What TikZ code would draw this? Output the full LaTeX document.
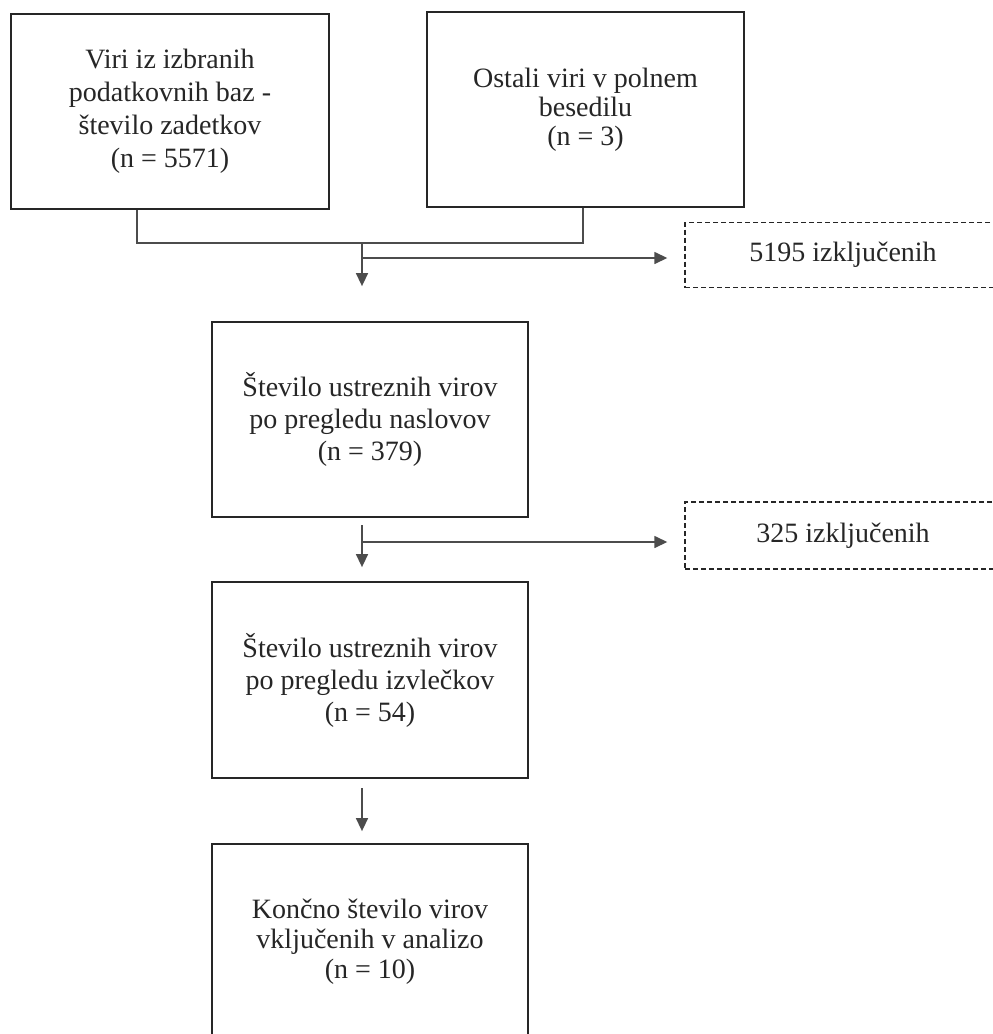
\documentclass[tikz,border=0pt]{standalone}
\usepackage{fontspec}
\setmainfont{Liberation Serif}
\usetikzlibrary{arrows.meta}
\begin{document}
\begin{tikzpicture}[x=1pt,y=-1pt,
 box/.style={draw=black!85, line width=1.8pt, align=center, text=black!85, inner sep=0pt, font=\fontsize{28}{32}\selectfont},
 exbox/.style={draw=black!85, line width=1.4pt, dash pattern=on 5pt off 3pt, align=center, inner sep=0pt, minimum width=316pt, minimum height=65pt, font=\fontsize{28}{32}\selectfont, text=black!85},
 conn/.style={draw=black!70, line width=1.5pt},
 arr/.style={conn, -{Triangle[length=13pt,width=12pt]}}]
\fill[white] (0,0) rectangle (993,1034);
\useasboundingbox (0,0) rectangle (993,1034);

\node[box, minimum width=318pt, minimum height=195pt, font=\fontsize{28}{33}\selectfont] (b1) at (170,111.5) {Viri iz izbranih\\podatkovnih baz -\\število zadetkov\\(n = 5571)};
\node[box, minimum width=317pt, minimum height=195pt, font=\fontsize{28}{29}\selectfont] (b2) at (585.5,109.5) {Ostali viri v polnem\\besedilu\\(n = 3)};
\node[box, minimum width=316pt, minimum height=195pt] (b3) at (370,419.5) {Število ustreznih virov\\po pregledu naslovov\\(n = 379)};
\node[box, minimum width=316pt, minimum height=196pt] (b4) at (370,680) {Število ustreznih virov\\po pregledu izvlečkov\\(n = 54)};
\node[box, minimum width=316pt, minimum height=196pt, font=\fontsize{28}{30}\selectfont] (b5) at (370,942) {Končno število virov\\vključenih v analizo\\(n = 10)};
\node[exbox] (d1) at (843,255) {5195 izključenih};
\node[exbox, minimum height=67pt] (d2) at (843,535.5) {325 izključenih};

\coordinate (m) at (362,243);
\coordinate (j1) at (362,258);
\coordinate (s2) at (362,525);
\coordinate (j2) at (362,542);
\coordinate (s3) at (362,788);

\draw[conn] ([xshift=-33pt]b1.south) |- (m) -| ([xshift=-2.5pt]b2.south);
\draw[arr, shorten >=35pt] (m) -- (m |- b3.north);
\draw[arr, shorten >=17pt] (j1) -- (j1 -| d1.west);
\draw[arr, shorten >=14pt] (s2) -- (s2 |- b4.north);
\draw[arr, shorten >=17pt] (j2) -- (j2 -| d2.west);
\draw[arr, shorten >=12pt] (s3) -- (s3 |- b5.north);
\end{tikzpicture}
\end{document}
